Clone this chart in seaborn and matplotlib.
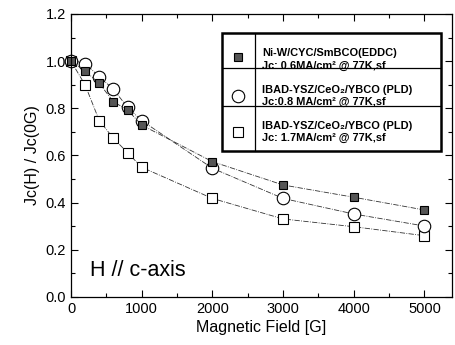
import pandas as pd
import seaborn as sns
import matplotlib.pyplot as plt
from matplotlib.patches import Rectangle
from matplotlib.lines import Line2D
from matplotlib.ticker import MultipleLocator

# data
field = [0, 200, 400, 600, 800, 1000, 2000, 3000, 4000, 5000]
jc_niw = [1.0, 0.958, 0.906, 0.828, 0.793, 0.729, 0.574, 0.475, 0.423, 0.369]
jc_ibad_08 = [1.0, 0.99, 0.934, 0.881, 0.804, 0.748, 0.546, 0.418, 0.352, 0.301]
jc_ibad_17 = [1.0, 0.899, 0.748, 0.673, 0.612, 0.55, 0.418, 0.331, 0.298, 0.26]

legend_rows = [
    ("Ni-W/CYC/SmBCO(EDDC)", "Jc: 0.6MA/cm² @ 77K,sf"),
    ("IBAD-YSZ/CeO₂/YBCO (PLD)", "Jc:0.8 MA/cm² @ 77K,sf"),
    ("IBAD-YSZ/CeO₂/YBCO (PLD)", "Jc: 1.7MA/cm² @ 77K,sf"),
]

sns.set_style("ticks")
plt.rcParams['font.family'] = ['Liberation Sans', 'DejaVu Sans']
for key in ['text.color', 'axes.labelcolor', 'xtick.color', 'ytick.color', 'axes.edgecolor']:
    plt.rcParams[key] = 'black'

W, H = 456, 345
fig = plt.figure(figsize=(W / 100, H / 100), dpi=100)
ax = fig.add_axes([71 / W, 1 - 297 / H, (452 - 71) / W, (297 - 14) / H])

df = pd.DataFrame({"field": field, "niw": jc_niw, "b08": jc_ibad_08, "b17": jc_ibad_17})

line_kw = dict(estimator=None, sort=False, color="#333333", linewidth=0.6, ax=ax, legend=False)
sns.lineplot(data=df, x="field", y="b17", marker="s", markersize=7,
             markerfacecolor="white", markeredgecolor="black", markeredgewidth=0.8,
             linestyle="-.", **line_kw)
sns.lineplot(data=df, x="field", y="b08", marker="o", markersize=9,
             markerfacecolor="white", markeredgecolor="black", markeredgewidth=0.8,
             linestyle="-.", **line_kw)
sns.lineplot(data=df, x="field", y="niw", marker="s", markersize=6,
             markerfacecolor="#555555", markeredgecolor="black", markeredgewidth=0.8,
             linestyle="-.", **line_kw)
for ln in ax.lines:
    ln.set_clip_on(False)

ax.set_xlim(0, 5390)
ax.set_ylim(0, 1.2)
ax.xaxis.set_major_locator(MultipleLocator(1000))
ax.xaxis.set_minor_locator(MultipleLocator(500))
ax.yaxis.set_major_locator(MultipleLocator(0.2))
ax.yaxis.set_minor_locator(MultipleLocator(0.1))
ax.yaxis.set_major_formatter(plt.FormatStrFormatter('%.1f'))
ax.tick_params(which='both', direction='in', top=True, right=True, labelsize=10.5,
               colors='black', width=0.8)
ax.tick_params(which='major', length=5)
ax.tick_params(which='minor', length=3)
for s in ax.spines.values():
    s.set_linewidth(0.9)
    s.set_color('black')

ax.set_xlabel("Magnetic Field [G]", fontsize=11.5, labelpad=3)
ax.set_ylabel("Jc(H) / Jc(0G)", fontsize=11.5, labelpad=4)

ax.text(90 / W, 1 - 270 / H, "H // c-axis", transform=fig.transFigure,
        fontsize=15.5, va='center', ha='left')

# table-like legend box
def fx(x):
    return x / W

def fy(y):
    return 1 - y / H

box = Rectangle((fx(222), fy(151)), fx(441) - fx(222), fy(33) - fy(151),
                transform=fig.transFigure, facecolor='white', edgecolor='black',
                linewidth=1.8, zorder=5)
fig.add_artist(box)
fig.add_artist(Line2D([fx(255), fx(255)], [fy(33), fy(151)], transform=fig.transFigure,
                      color='black', linewidth=0.9, zorder=6))
for yy in [68, 106]:
    fig.add_artist(Line2D([fx(222), fx(441)], [fy(yy), fy(yy)], transform=fig.transFigure,
                          color='black', linewidth=0.9, zorder=6))

marker_styles = [
    dict(marker='s', markersize=6, markerfacecolor='#555555'),
    dict(marker='o', markersize=9, markerfacecolor='white'),
    dict(marker='s', markersize=7, markerfacecolor='white'),
]
marker_y = [57, 96, 132]
text_y = [(53, 65.5), (90, 101.5), (126, 137.5)]
for (l1, l2), ms, my, (ty1, ty2) in zip(legend_rows, marker_styles, marker_y, text_y):
    fig.add_artist(Line2D([fx(238)], [fy(my)], transform=fig.transFigure, linestyle='none',
                          markeredgecolor='black', markeredgewidth=0.8, zorder=7, **ms))
    fig.text(fx(262), fy(ty1), l1, fontsize=7.9, fontweight='bold', va='center',
             ha='left', zorder=7)
    fig.text(fx(262), fy(ty2), l2, fontsize=7.9, fontweight='bold', va='center',
             ha='left', zorder=7)

plt.savefig("out.png", dpi=100)
